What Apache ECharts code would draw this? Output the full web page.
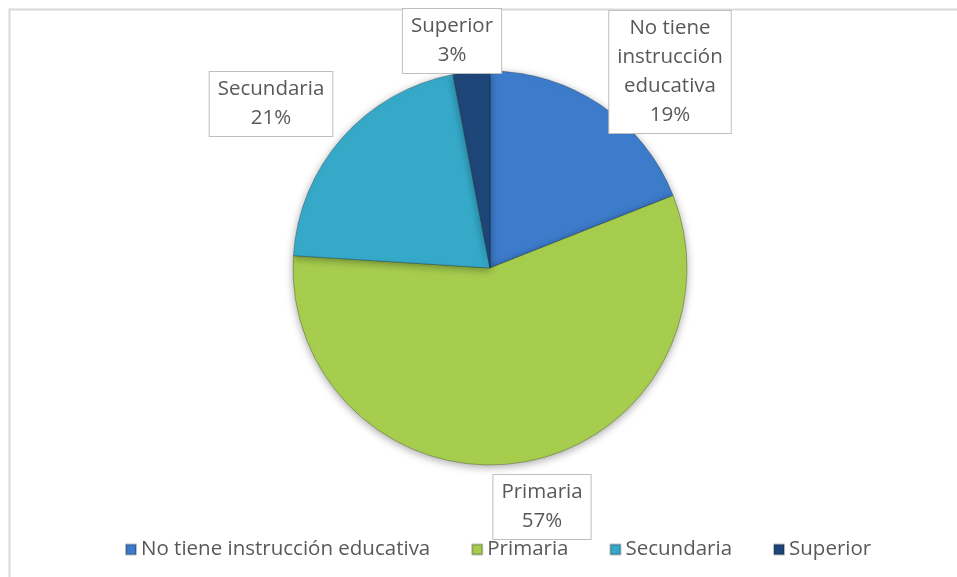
<!DOCTYPE html>
<html>
<head>
<meta charset="utf-8">
<script src="https://cdn.jsdelivr.net/npm/echarts@6/dist/echarts.min.js"></script>
<style>html,body{margin:0;padding:0;background:#fff}#c{width:957px;height:577px}</style>
</head>
<body>
<div id="c"></div>
<script>
var categories = ['No tiene instrucción educativa', 'Primaria', 'Secundaria', 'Superior'];
var labelNames = ['No tiene\ninstrucción\neducativa', 'Primaria', 'Secundaria', 'Superior'];
var values = [19, 57, 21, 3];
var colors = ['#3d7ccb', '#a7cd4f', '#36a9c9', '#1f4679'];
var labelCenters = [[670, 72], [542, 507], [271, 104], [452, 41]];

var chart = echarts.init(document.getElementById('c'));
var FONT = 'Open Sans';
chart.setOption({
  backgroundColor: '#fff',
  animation: false,
  color: colors,
  graphic: [{
    type: 'rect', shape: {x: 9.5, y: 9.5, width: 1000, height: 1000},
    style: {fill: 'none', stroke: '#d9d9d9', lineWidth: 2}, z: 0
  }],
  legend: {
    bottom: 12, left: 120,
    icon: 'rect', itemWidth: 10, itemHeight: 10, itemGap: 41,
    textStyle: {fontFamily: FONT, fontSize: 20.5, color: '#595959', padding: [0, 0, 0, 0]},
    data: categories
  },
  series: [{
    type: 'pie',
    center: [490, 268],
    radius: 197,
    startAngle: 90,
    clockwise: true,
    data: categories.map(function (c, i) {
      return {name: c, value: values[i]};
    }),
    itemStyle: {borderColor: 'rgba(0,0,0,0.25)', borderWidth: 1, shadowBlur: 8, shadowColor: 'rgba(0,0,0,0.35)', shadowOffsetY: 2},
    label: {
      show: true,
      formatter: function (p) { return labelNames[p.dataIndex] + '\n' + Math.round(p.percent) + '%'; },
      fontFamily: FONT, fontSize: 20.5, lineHeight: 29, color: '#595959',
      backgroundColor: '#fff', borderColor: '#bfbfbf', borderWidth: 1,
      padding: [3, 8, 3, 8], align: 'center'
    },
    labelLine: {show: false},
    labelLayout: function (p) {
      var c = labelCenters[p.dataIndex];
      return {x: c[0], y: c[1], align: 'center', verticalAlign: 'middle', hideOverlap: false};
    }
  }]
});
</script>
</body>
</html>
